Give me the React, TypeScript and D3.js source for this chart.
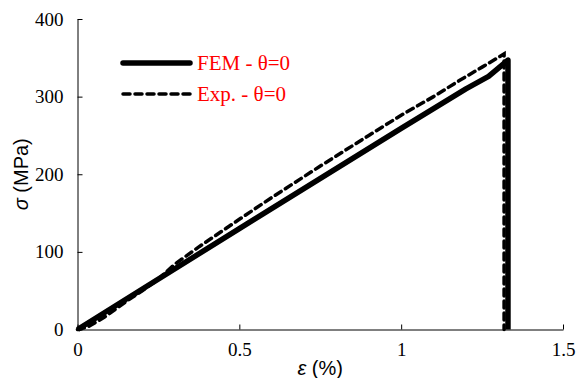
import { useEffect, useRef } from 'react'
import * as d3 from 'd3'

// strain (%) and stress (MPa)
const femStrain = [0, 0.5, 1.0, 1.2, 1.27, 1.33, 1.33]
const femStress = [0, 130, 259, 310, 326, 347, 0]

const expStrain = [0, 0.03, 0.08, 0.15, 0.2, 0.25, 0.3, 0.377, 0.5, 0.6, 0.748, 0.9, 1.0, 1.1, 1.181, 1.25, 1.318, 1.318]
const expStress = [0, 3, 15, 36, 50, 65, 84, 107, 142, 170, 210, 250, 276, 300, 321, 338, 355, 0]

const xTicks = [0, 0.5, 1, 1.5]
const yTicks = [0, 100, 200, 300, 400]

const seriesLabels = ['FEM - θ=0', 'Exp. - θ=0']

export default function App() {
  const svgRef = useRef<SVGSVGElement>(null)
  const width = 579
  const height = 378

  useEffect(() => {
    document.body.style.margin = '0'
    if (!svgRef.current) return
    const svg = d3.select(svgRef.current)
    svg.selectAll('*').remove()

    const x = d3.scaleLinear().domain([0, 1.5]).range([77.5, 563])
    const y = d3.scaleLinear().domain([0, 400]).range([329.5, 19])

    const serif = '"Liberation Serif", "Times New Roman", serif'
    const sans = '"Liberation Sans", Arial, sans-serif'

    // x axis (ticks inside)
    const xAxis = svg.append('g')
      .attr('transform', `translate(0,${y(0)})`)
      .call(d3.axisBottom(x).tickValues(xTicks).tickSize(-5).tickSizeOuter(0).tickFormat((d) => String(d)))
    xAxis.select('.domain').attr('stroke', '#000')
    xAxis.selectAll('.tick line').attr('stroke', '#000')
    xAxis.selectAll('text')
      .attr('font-family', serif)
      .attr('font-size', '19px')
      .attr('fill', '#000')
      .attr('y', 13)

    // y axis (ticks inside)
    const yAxis = svg.append('g')
      .attr('transform', `translate(${x(0)},0)`)
      .call(d3.axisLeft(y).tickValues(yTicks).tickSize(-5).tickSizeOuter(0))
    yAxis.select('.domain').attr('stroke', '#000')
    yAxis.selectAll('.tick line').attr('stroke', '#000')
    yAxis.selectAll('text')
      .attr('font-family', serif)
      .attr('font-size', '19px')
      .attr('fill', '#000')
      .attr('x', -14)

    const line = d3.line<[number, number]>()
      .x((d) => x(d[0]))
      .y((d) => y(d[1]))

    const expData = expStrain.map((v, i) => [v, expStress[i]] as [number, number])
    const femData = femStrain.map((v, i) => [v, femStress[i]] as [number, number])

    svg.append('path')
      .datum(expData)
      .attr('d', line)
      .attr('fill', 'none')
      .attr('stroke', '#000')
      .attr('stroke-width', 3.5)
      .attr('stroke-dasharray', '7,5')
      .attr('stroke-linecap', 'round')

    svg.append('path')
      .datum(femData)
      .attr('d', line)
      .attr('fill', 'none')
      .attr('stroke', '#000')
      .attr('stroke-width', 5.5)
      .attr('stroke-linejoin', 'round')

    // legend
    const legend = svg.append('g')
    const styles = [
      { w: 5.5, dash: null, yy: 63 },
      { w: 3.5, dash: '7,5', yy: 94 },
    ]
    styles.forEach((s, i) => {
      const l = legend.append('line')
        .attr('x1', 123).attr('x2', 190)
        .attr('y1', s.yy).attr('y2', s.yy)
        .attr('stroke', '#000')
        .attr('stroke-width', s.w)
        .attr('stroke-linecap', 'round')
      if (s.dash) l.attr('stroke-dasharray', s.dash)
      legend.append('text')
        .attr('x', 197)
        .attr('y', s.yy + 7)
        .attr('font-family', serif)
        .attr('font-size', '21px')
        .attr('fill', '#ff0000')
        .text(seriesLabels[i])
    })

    // axis titles
    svg.append('text')
      .attr('transform', `translate(28,${(y(0) + y(400)) / 2}) rotate(-90)`)
      .attr('text-anchor', 'middle')
      .attr('font-family', sans)
      .attr('font-size', '20px')
      .attr('fill', '#000')
      .call((t) => {
        t.append('tspan').attr('font-style', 'italic').text('σ')
        t.append('tspan').text(' (MPa)')
      })

    svg.append('text')
      .attr('x', (x(0) + x(1.5)) / 2)
      .attr('y', 375)
      .attr('text-anchor', 'middle')
      .attr('font-family', sans)
      .attr('font-size', '20px')
      .attr('fill', '#000')
      .call((t) => {
        t.append('tspan').attr('font-style', 'italic').text('ε')
        t.append('tspan').text(' (%)')
      })
  }, [])

  return <svg ref={svgRef} width={width} height={height} style={{ display: 'block', background: '#fff' }} />
}
